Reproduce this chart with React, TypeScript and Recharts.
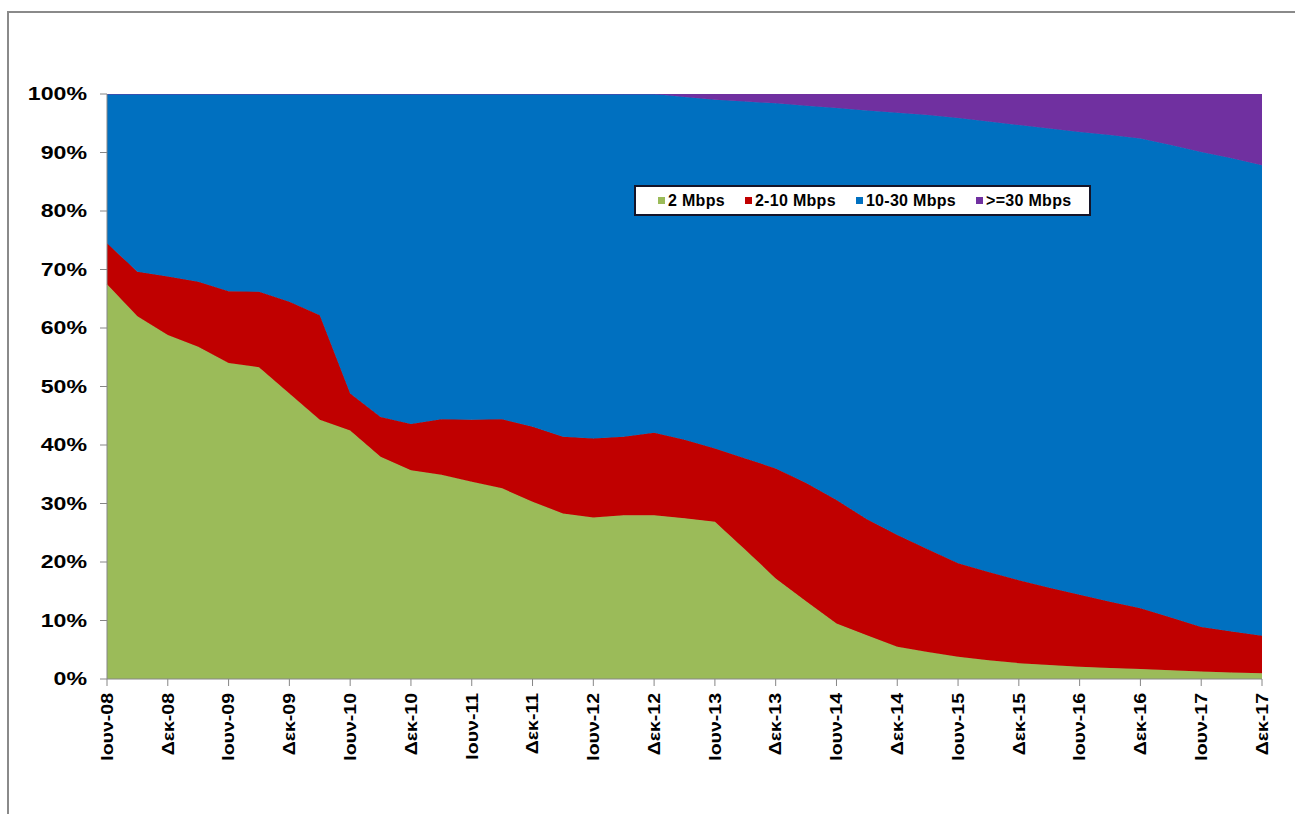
import { AreaChart, Area, XAxis, YAxis, Legend } from 'recharts';

const quarters = [
  'Ιουν-08', 'Σεπ-08', 'Δεκ-08',
  'Μαρ-09', 'Ιουν-09', 'Σεπ-09', 'Δεκ-09',
  'Μαρ-10', 'Ιουν-10', 'Σεπ-10', 'Δεκ-10',
  'Μαρ-11', 'Ιουν-11', 'Σεπ-11', 'Δεκ-11',
  'Μαρ-12', 'Ιουν-12', 'Σεπ-12', 'Δεκ-12',
  'Μαρ-13', 'Ιουν-13', 'Σεπ-13', 'Δεκ-13',
  'Μαρ-14', 'Ιουν-14', 'Σεπ-14', 'Δεκ-14',
  'Μαρ-15', 'Ιουν-15', 'Σεπ-15', 'Δεκ-15',
  'Μαρ-16', 'Ιουν-16', 'Σεπ-16', 'Δεκ-16',
  'Μαρ-17', 'Ιουν-17', 'Σεπ-17', 'Δεκ-17',
];

// shares in %, one value per quarter
const upTo2 = [
  67.5, 62.0, 58.8, 56.8, 54.0, 53.3, 48.8, 44.3, 42.5, 38.0, 35.7, 34.9, 33.7,
  32.6, 30.3, 28.3, 27.6, 28.0, 28.0, 27.5, 26.9, 22.1, 17.2, 13.3, 9.5, 7.5,
  5.5, 4.6, 3.8, 3.2, 2.7, 2.4, 2.1, 1.9, 1.7, 1.5, 1.3, 1.1, 1.0,
];
const from2to10 = [
  7.0, 7.6, 10.0, 11.1, 12.3, 12.9, 15.7, 17.9, 6.3, 6.8, 7.9, 9.5, 10.6,
  11.8, 12.8, 13.1, 13.5, 13.4, 14.1, 13.4, 12.5, 15.6, 18.8, 20.2, 21.1, 19.8,
  19.1, 17.6, 16.0, 15.1, 14.2, 13.2, 12.3, 11.3, 10.4, 9.0, 7.6, 7.0, 6.4,
];
const from10to30 = [
  25.5, 30.4, 31.2, 32.1, 33.7, 33.8, 35.5, 37.8, 51.2, 55.2, 56.4, 55.6, 55.7,
  55.6, 56.9, 58.6, 58.9, 58.6, 57.9, 58.6, 59.6, 61.0, 62.4, 64.5, 67.0, 69.9,
  72.2, 74.2, 76.1, 77.0, 77.8, 78.5, 79.1, 79.8, 80.3, 80.8, 81.2, 80.9, 80.4,
];
const over30 = [
  0, 0, 0, 0, 0, 0, 0, 0, 0, 0, 0, 0, 0,
  0, 0, 0, 0, 0, 0, 0.5, 1.0, 1.3, 1.6, 2.0, 2.4, 2.8,
  3.2, 3.6, 4.1, 4.7, 5.3, 5.9, 6.5, 7.0, 7.6, 8.7, 9.9, 11.0, 12.2,
];

const yTicks = [0, 0.1, 0.2, 0.3, 0.4, 0.5, 0.6, 0.7, 0.8, 0.9, 1];

const series = [
  { key: 'a', name: '2 Mbps', color: '#9BBB59' },
  { key: 'b', name: '2-10 Mbps', color: '#C00000' },
  { key: 'c', name: '10-30 Mbps', color: '#0070C0' },
  { key: 'd', name: '>=30 Mbps', color: '#7030A0' },
];

const data = quarters.map((q, i) => ({
  q,
  a: upTo2[i],
  b: from2to10[i],
  c: from10to30[i],
  d: over30[i],
}));

const FONT = '"Liberation Sans", Arial, sans-serif';

function YTick({ x, y, payload }: any) {
  return (
    <g transform={`translate(${x},${y}) scale(1.25,1)`}>
      <text textAnchor="end" dy="0.35em" fontSize={18.5} fontWeight="bold" fontFamily={FONT} fill="#000">
        {Math.round(payload.value * 100)}%
      </text>
    </g>
  );
}

function XTick({ x, y, payload }: any) {
  return (
    <g transform={`translate(${x},${y}) rotate(-90) scale(1.22,1)`}>
      <text textAnchor="end" dy="0.36em" fontSize={16} fontWeight="bold" fontFamily={FONT} fill="#000">
        {payload.value}
      </text>
    </g>
  );
}

function LegendBox() {
  return (
    <div
      style={{
        display: 'flex',
        alignItems: 'center',
        height: 27,
        paddingLeft: 22,
        background: '#fff',
        border: '2px solid #141428',
        fontFamily: FONT,
        fontWeight: 'bold',
        fontSize: 16,
        letterSpacing: 0.3,
        color: '#000',
        boxSizing: 'content-box',
        width: 431,
      }}
    >
      {series.map((s) => (
        <div key={s.key} style={{ display: 'flex', alignItems: 'center', marginRight: 20 }}>
          <span style={{ width: 7, height: 7, background: s.color, marginRight: 3, display: 'inline-block' }} />
          <span style={{ whiteSpace: 'nowrap' }}>{s.name}</span>
        </div>
      ))}
    </div>
  );
}

export default function App() {
  return (
    <div style={{ position: 'absolute', left: 0, top: 0, width: 1295, height: 814, overflow: 'hidden', background: '#fff' }}>
      <div
        style={{
          position: 'absolute',
          left: 7,
          top: 11,
          width: 1400,
          height: 900,
          borderLeft: '2px solid #8a8a8a',
          borderTop: '2px solid #8a8a8a',
        }}
      />
      <div style={{ position: 'absolute', left: 0, top: 0 }}>
        <AreaChart
          width={1295}
          height={814}
          data={data}
          stackOffset="expand"
          margin={{ top: 94, right: 33, bottom: 35, left: 17 }}
        >
          <XAxis
            dataKey="q"
            interval={1}
            height={100}
            tick={<XTick />}
            tickSize={7}
            tickMargin={7}
            stroke="#868686"
          />
          <YAxis
            width={90}
            domain={[0, 1]}
            ticks={yTicks}
            allowDataOverflow
            tick={<YTick />}
            tickSize={7}
            tickMargin={13}
            stroke="#868686"
          />
          <Legend
            layout="vertical"
            align="center"
            verticalAlign="middle"
            content={() => <LegendBox />}
            wrapperStyle={{ left: 634, top: 185, width: 460 }}
          />
          {series.map((s) => (
            <Area
              key={s.key}
              type="linear"
              dataKey={s.key}
              name={s.name}
              stackId="1"
              stroke={s.color}
              strokeWidth={1}
              fill={s.color}
              fillOpacity={1}
              isAnimationActive={false}
              dot={false}
              activeDot={false}
            />
          ))}
        </AreaChart>
      </div>
    </div>
  );
}
